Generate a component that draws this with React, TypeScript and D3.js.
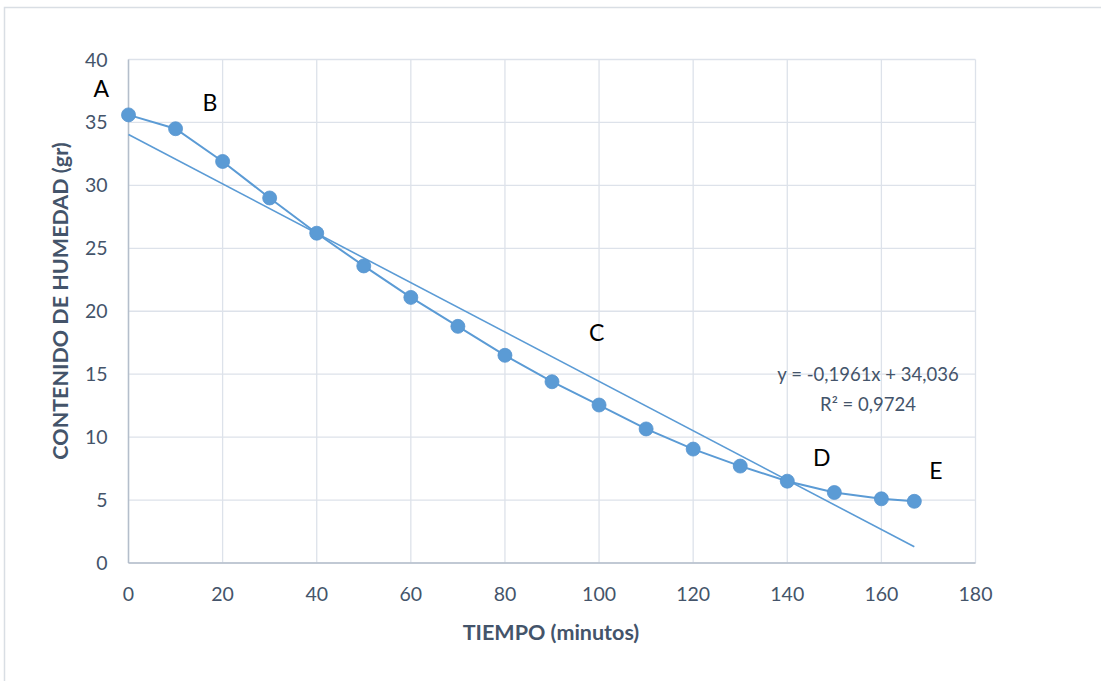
import React from "react";
import * as d3 from "d3";

const tiempo = [0, 10, 20, 30, 40, 50, 60, 70, 80, 90, 100, 110, 120, 130, 140, 150, 160, 167];
const humedad = [35.6, 34.5, 31.9, 29.0, 26.2, 23.6, 21.1, 18.8, 16.5, 14.4, 12.55, 10.65, 9.05, 7.7, 6.5, 5.6, 5.1, 4.9];
const xTicks = [0, 20, 40, 60, 80, 100, 120, 140, 160, 180];
const yTicks = [0, 5, 10, 15, 20, 25, 30, 35, 40];
const slope = -0.1961;
const intercept = 34.036;
const trendX = [0, 167];
const pointLabels = [
  { t: "A", x: -5.8, y: 37.0 },
  { t: "B", x: 17.3, y: 35.9 },
  { t: "C", x: 99.5, y: 17.6 },
  { t: "D", x: 147.3, y: 7.7 },
  { t: "E", x: 171.6, y: 6.65 },
];
const eqLines = ["y = -0,1961x + 34,036", "R² = 0,9724"];

export default function App() {
  const W = 1101, H = 681;
  const x = d3.scaleLinear().domain([0, 180]).range([128.5, 975.5]);
  const y = d3.scaleLinear().domain([0, 40]).range([563, 59.5]);
  const line = d3.line<number>().x((_, i) => x(tiempo[i])).y((d) => y(d));
  const font = "Lato, 'Open Sans', sans-serif";
  const tickColor = "#44546A";
  const blue = "#5B9BD5";
  return (
    <svg width={W} height={H} style={{ position: "absolute", left: 0, top: 0, background: "#fff" }}>
      <rect x={4.5} y={7.5} width={1120} height={700} fill="#fff" stroke="#D9DEE4" strokeWidth={1.5} />
      {xTicks.map((t) => (
        <line key={"gx" + t} x1={x(t)} x2={x(t)} y1={y(0)} y2={y(40)} stroke="#DDE2EA" strokeWidth={1.3} />
      ))}
      {yTicks.map((t) => (
        <line key={"gy" + t} x1={x(0)} x2={x(180)} y1={y(t)} y2={y(t)} stroke="#DDE2EA" strokeWidth={1.3} />
      ))}
      <line x1={x(0)} x2={x(0)} y1={y(0)} y2={y(40)} stroke="#B4BECB" strokeWidth={1.5} />
      <line x1={x(0)} x2={x(180)} y1={y(0)} y2={y(0)} stroke="#B4BECB" strokeWidth={1.5} />
      {xTicks.map((t) => (
        <text key={"tx" + t} x={x(t)} y={y(0) + 38} textAnchor="middle" fontFamily={font} fontSize={19.5} fill={tickColor}>
          {t}
        </text>
      ))}
      {yTicks.map((t) => (
        <text key={"ty" + t} x={x(0) - 21} y={y(t) + 7} textAnchor="end" fontFamily={font} fontSize={19.5} fill={tickColor}>
          {t}
        </text>
      ))}
      <text x={551} y={640} textAnchor="middle" fontFamily={font} fontSize={21.5} fontWeight="bold" fill={tickColor}>
        TIEMPO (minutos)
      </text>
      <text
        transform={`translate(68,301) rotate(-90)`}
        textAnchor="middle"
        fontFamily={font}
        fontSize={21.5}
        fontWeight="bold"
        fill={tickColor}
      >
        CONTENIDO DE HUMEDAD (gr)
      </text>
      <line
        x1={x(trendX[0])}
        y1={y(slope * trendX[0] + intercept)}
        x2={x(trendX[1])}
        y2={y(slope * trendX[1] + intercept)}
        stroke={blue}
        strokeWidth={1.6}
      />
      <path d={line(humedad) || ""} fill="none" stroke={blue} strokeWidth={2} />
      {humedad.map((d, i) => (
        <circle key={"p" + i} cx={x(tiempo[i])} cy={y(d)} r={7} fill={blue} stroke="#5794CF" strokeWidth={0.8} />
      ))}
      {pointLabels.map((p) => (
        <text key={p.t} x={x(p.x)} y={y(p.y)} textAnchor="middle" fontFamily={font} fontSize={23} fill="#000">
          {p.t}
        </text>
      ))}
      {eqLines.map((s, i) => (
        <text key={s} x={868} y={381 + i * 30} textAnchor="middle" fontFamily={font} fontSize={18.5} fill={tickColor}>
          {s}
        </text>
      ))}
    </svg>
  );
}
